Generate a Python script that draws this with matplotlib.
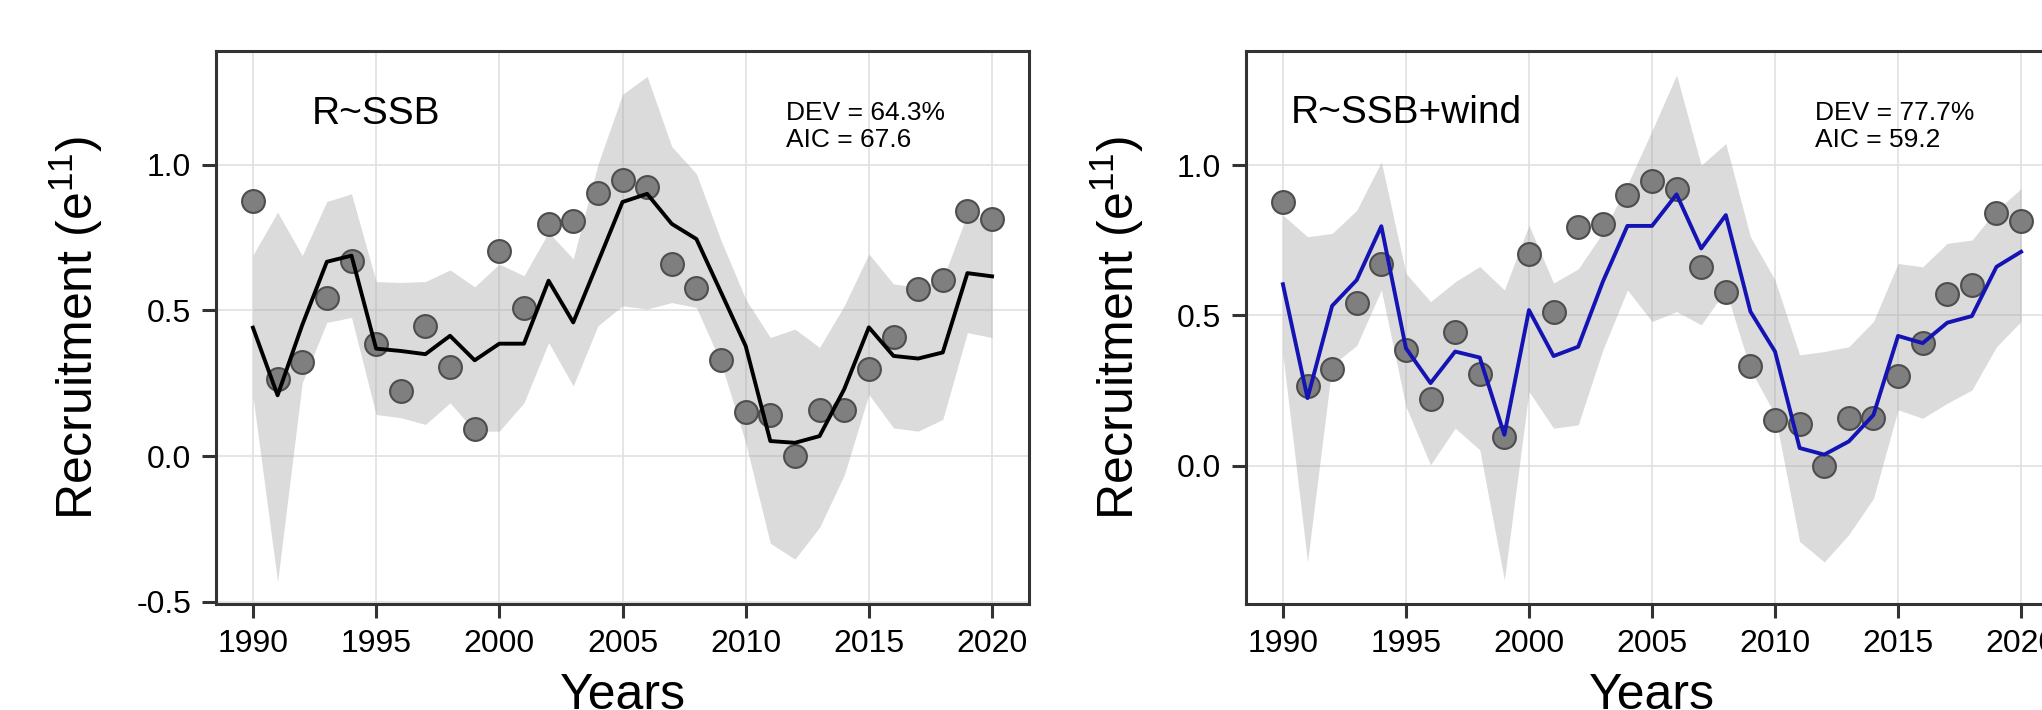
import numpy as np
import matplotlib.pyplot as plt
from matplotlib.ticker import FuncFormatter

plt.rcParams['font.family'] = ['Liberation Sans', 'DejaVu Sans']
plt.rcParams['mathtext.fontset'] = 'custom'
plt.rcParams['mathtext.rm'] = 'Liberation Sans'
plt.rcParams['mathtext.it'] = 'Liberation Sans:italic'
plt.rcParams['axes.unicode_minus'] = False

years = np.arange(1990, 2021)

# observed recruitment (same in both panels)
recruit = [0.876, 0.264, 0.323, 0.541, 0.670, 0.386, 0.222, 0.445, 0.305, 0.095,
           0.705, 0.510, 0.795, 0.806, 0.902, 0.946, 0.922, 0.661, 0.577, 0.331,
           0.152, 0.140, 0.000, 0.160, 0.160, 0.300, 0.409, 0.572, 0.603, 0.840, 0.813]

# R~SSB fit and band
fit_ssb = [0.441, 0.209, 0.450, 0.667, 0.688, 0.369, 0.361, 0.350, 0.413, 0.329,
           0.386, 0.386, 0.602, 0.459, 0.665, 0.872, 0.900, 0.797, 0.745, 0.562,
           0.378, 0.052, 0.046, 0.069, 0.230, 0.442, 0.344, 0.335, 0.356, 0.628, 0.617]
ssb_hi = [0.690, 0.837, 0.688, 0.874, 0.900, 0.599, 0.596, 0.599, 0.639, 0.581,
          0.659, 0.619, 0.768, 0.677, 1.000, 1.241, 1.303, 1.062, 0.969, 0.740,
          0.539, 0.407, 0.436, 0.373, 0.516, 0.694, 0.591, 0.579, 0.608, 0.831, 0.803]
ssb_lo = [0.206, -0.431, 0.252, 0.459, 0.476, 0.143, 0.132, 0.109, 0.183, 0.086,
          0.086, 0.183, 0.390, 0.241, 0.447, 0.516, 0.505, 0.527, 0.510, 0.320,
          0.046, -0.299, -0.353, -0.244, -0.065, 0.212, 0.097, 0.086, 0.126, 0.424, 0.407]

# R~SSB+wind fit and band
fit_wind = [0.604, 0.225, 0.532, 0.618, 0.797, 0.391, 0.275, 0.380, 0.360, 0.103,
            0.518, 0.365, 0.396, 0.612, 0.798, 0.798, 0.903, 0.723, 0.834, 0.513,
            0.380, 0.059, 0.037, 0.081, 0.169, 0.432, 0.408, 0.476, 0.498, 0.662, 0.712]
wind_hi = [0.834, 0.762, 0.773, 0.850, 1.011, 0.640, 0.546, 0.612, 0.663, 0.585,
           0.800, 0.608, 0.655, 0.775, 0.935, 1.115, 1.300, 1.000, 1.072, 0.762,
           0.618, 0.369, 0.380, 0.396, 0.480, 0.673, 0.662, 0.740, 0.751, 0.850, 0.922]
wind_lo = [0.370, -0.320, 0.335, 0.400, 0.585, 0.197, 0.003, 0.125, 0.053, -0.380,
           0.247, 0.125, 0.136, 0.385, 0.585, 0.480, 0.513, 0.469, 0.585, 0.320,
           0.170, -0.252, -0.320, -0.229, -0.109, 0.186, 0.158, 0.208, 0.252, 0.396, 0.480]


def panel(ax, fit, lo, hi, col, ylim, yticks, model, dev, aic, ylab_x):
    ax.fill_between(years, lo, hi, color='#a6a6a6', alpha=0.4, lw=0, zorder=1)
    ax.scatter(years, recruit, s=270, c='#7f7f7f', edgecolors='#4d4d4d',
               linewidths=1.5, zorder=3)
    ax.plot(years, fit, color=col, lw=2.8, zorder=4)
    ax.set_xlim(1988.5, 2021.5)
    ax.set_ylim(*ylim)
    ax.set_xticks(range(1990, 2021, 5))
    ax.set_yticks(yticks)
    ax.yaxis.set_major_formatter(FuncFormatter(lambda v, p: f'{v:.1f}'))
    ax.grid(color='#e0e0e0', lw=1.2)
    ax.set_axisbelow(True)
    for s in ax.spines.values():
        s.set_color('#333333')
        s.set_linewidth(2.2)
    ax.tick_params(length=10, width=2.2, color='#333333', labelsize=23, pad=8)
    ax.set_xlabel('Years', fontsize=36)
    ax.set_ylabel('Recruitment (e$^{11}$)', fontsize=36)
    ax.xaxis.set_label_coords(0.5, -0.125)
    ax.yaxis.set_label_coords(ylab_x, 0.5)
    ax.text(1995, 1.14, model, fontsize=28, ha='center', va='baseline')
    ax.text(2011.63, 1.152, 'DEV = ' + dev, fontsize=19, ha='left', va='baseline')
    ax.text(2011.63, 1.06, 'AIC = ' + aic, fontsize=19, ha='left', va='baseline')


fig = plt.figure(figsize=(20.42, 7.10), dpi=100)
ax1 = fig.add_axes([216 / 2042, 1 - 604 / 710, 813 / 2042, 553 / 710])
ax2 = fig.add_axes([1246 / 2042, 1 - 604 / 710, 812 / 2042, 553 / 710])

panel(ax1, fit_ssb, ssb_lo, ssb_hi, 'black', (-0.507, 1.39), [-0.5, 0.0, 0.5, 1.0],
      'R~SSB', '64.3%', '67.6', -0.137)
panel(ax2, fit_wind, wind_lo, wind_hi, '#1414b4', (-0.46, 1.38), [0.0, 0.5, 1.0],
      'R~SSB+wind', '77.7%', '59.2', -0.123)

fig.savefig('out.png', dpi=100, facecolor='white')
